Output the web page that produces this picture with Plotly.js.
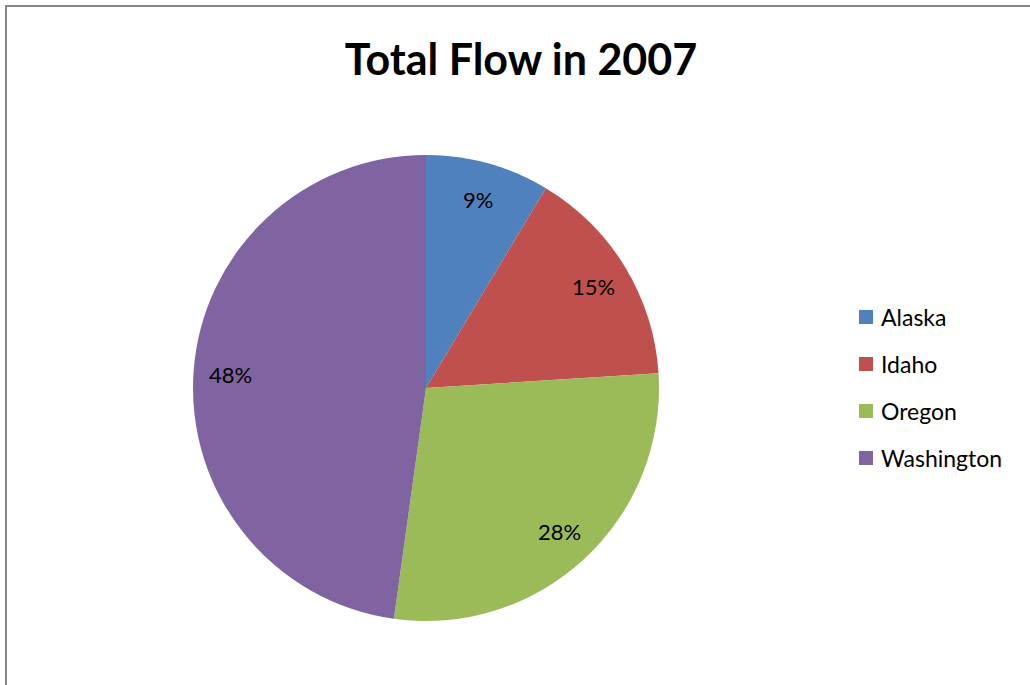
<!DOCTYPE html>
<html>
<head>
<meta charset="utf-8">
<script src="https://cdn.plot.ly/plotly-3.0.1.min.js"></script>
<style>
  html, body { margin: 0; padding: 0; background: #fff; overflow: hidden; }
  #frame { position: absolute; left: 5px; top: 5px; width: 1040px; height: 700px;
           border-left: 2px solid #868686; border-top: 2px solid #868686; }
  #chart { position: absolute; left: 0; top: 0; width: 1030px; height: 685px; }
</style>
</head>
<body>
<div id="frame"></div>
<div id="chart"></div>
<script>
const categories = ["Alaska", "Idaho", "Oregon", "Washington"];
const values = [8.6, 15.4, 28.2, 47.8];
const colors = ["#4F81BD", "#C0504D", "#9BBB59", "#8064A2"];
const chartTitle = "Total Flow in 2007";

const W = 1030, H = 685;
const FONT = "Lato, 'Open Sans', sans-serif";

// pie geometry (pixels)
const pieL = 193, pieR = 659, pieT = 155, pieB = 621;
const cx = (pieL + pieR) / 2, cy = (pieT + pieB) / 2, R = (pieR - pieL) / 2;

const trace = {
  type: "pie",
  labels: categories,
  values: values,
  sort: false,
  direction: "clockwise",
  rotation: 0,
  marker: { colors: colors, line: { width: 0 } },
  textinfo: "none",
  hoverinfo: "label+percent",
  showlegend: false,
  domain: { x: [pieL / W, pieR / W], y: [1 - pieB / H, 1 - pieT / H] }
};

const shapes = [], annotations = [];

// percent labels placed along each slice's bisector (Excel-style, near the rim)
const total = values.reduce((a, b) => a + b, 0);
let cum = 0;
values.forEach((v, i) => {
  const mid = (cum + v / 2) / total * 2 * Math.PI;
  cum += v;
  const r = 0.84 * R;
  const px = cx + r * Math.sin(mid), py = cy - r * Math.cos(mid);
  annotations.push({
    xref: "paper", yref: "paper", x: px / W, y: 1 - py / H,
    xanchor: "center", yanchor: "middle", showarrow: false,
    text: Math.round(v / total * 100) + "%",
    font: { family: FONT, size: 22, color: "#000" }
  });
});

// legend drawn from the categories / colors arrays
const legendX = 859, legendY0 = 317, legendStep = 47, sw = 14;
categories.forEach((c, i) => {
  const ly = legendY0 + i * legendStep;
  shapes.push({
    type: "rect", xref: "paper", yref: "paper",
    x0: legendX / W, x1: (legendX + sw) / W,
    y0: 1 - (ly + sw / 2) / H, y1: 1 - (ly - sw / 2) / H,
    fillcolor: colors[i], line: { width: 0 }
  });
  annotations.push({
    xref: "paper", yref: "paper", x: (legendX + 20) / W, y: 1 - ly / H,
    xanchor: "left", yanchor: "middle", showarrow: false,
    text: c, font: { family: FONT, size: 23, color: "#000" }
  });
});

const layout = {
  width: W, height: H,
  margin: { l: 0, r: 0, t: 0, b: 0 },
  paper_bgcolor: "rgba(0,0,0,0)",
  plot_bgcolor: "rgba(0,0,0,0)",
  title: {
    text: "<b>" + chartTitle + "</b>",
    x: 521 / W, xanchor: "center", xref: "paper",
    y: 1 - 60 / H, yanchor: "middle", yref: "paper",
    font: { family: FONT, size: 43, color: "#000" }
  },
  showlegend: false,
  shapes: shapes,
  annotations: annotations
};

Plotly.newPlot("chart", [trace], layout, { displayModeBar: false });
</script>
</body>
</html>
